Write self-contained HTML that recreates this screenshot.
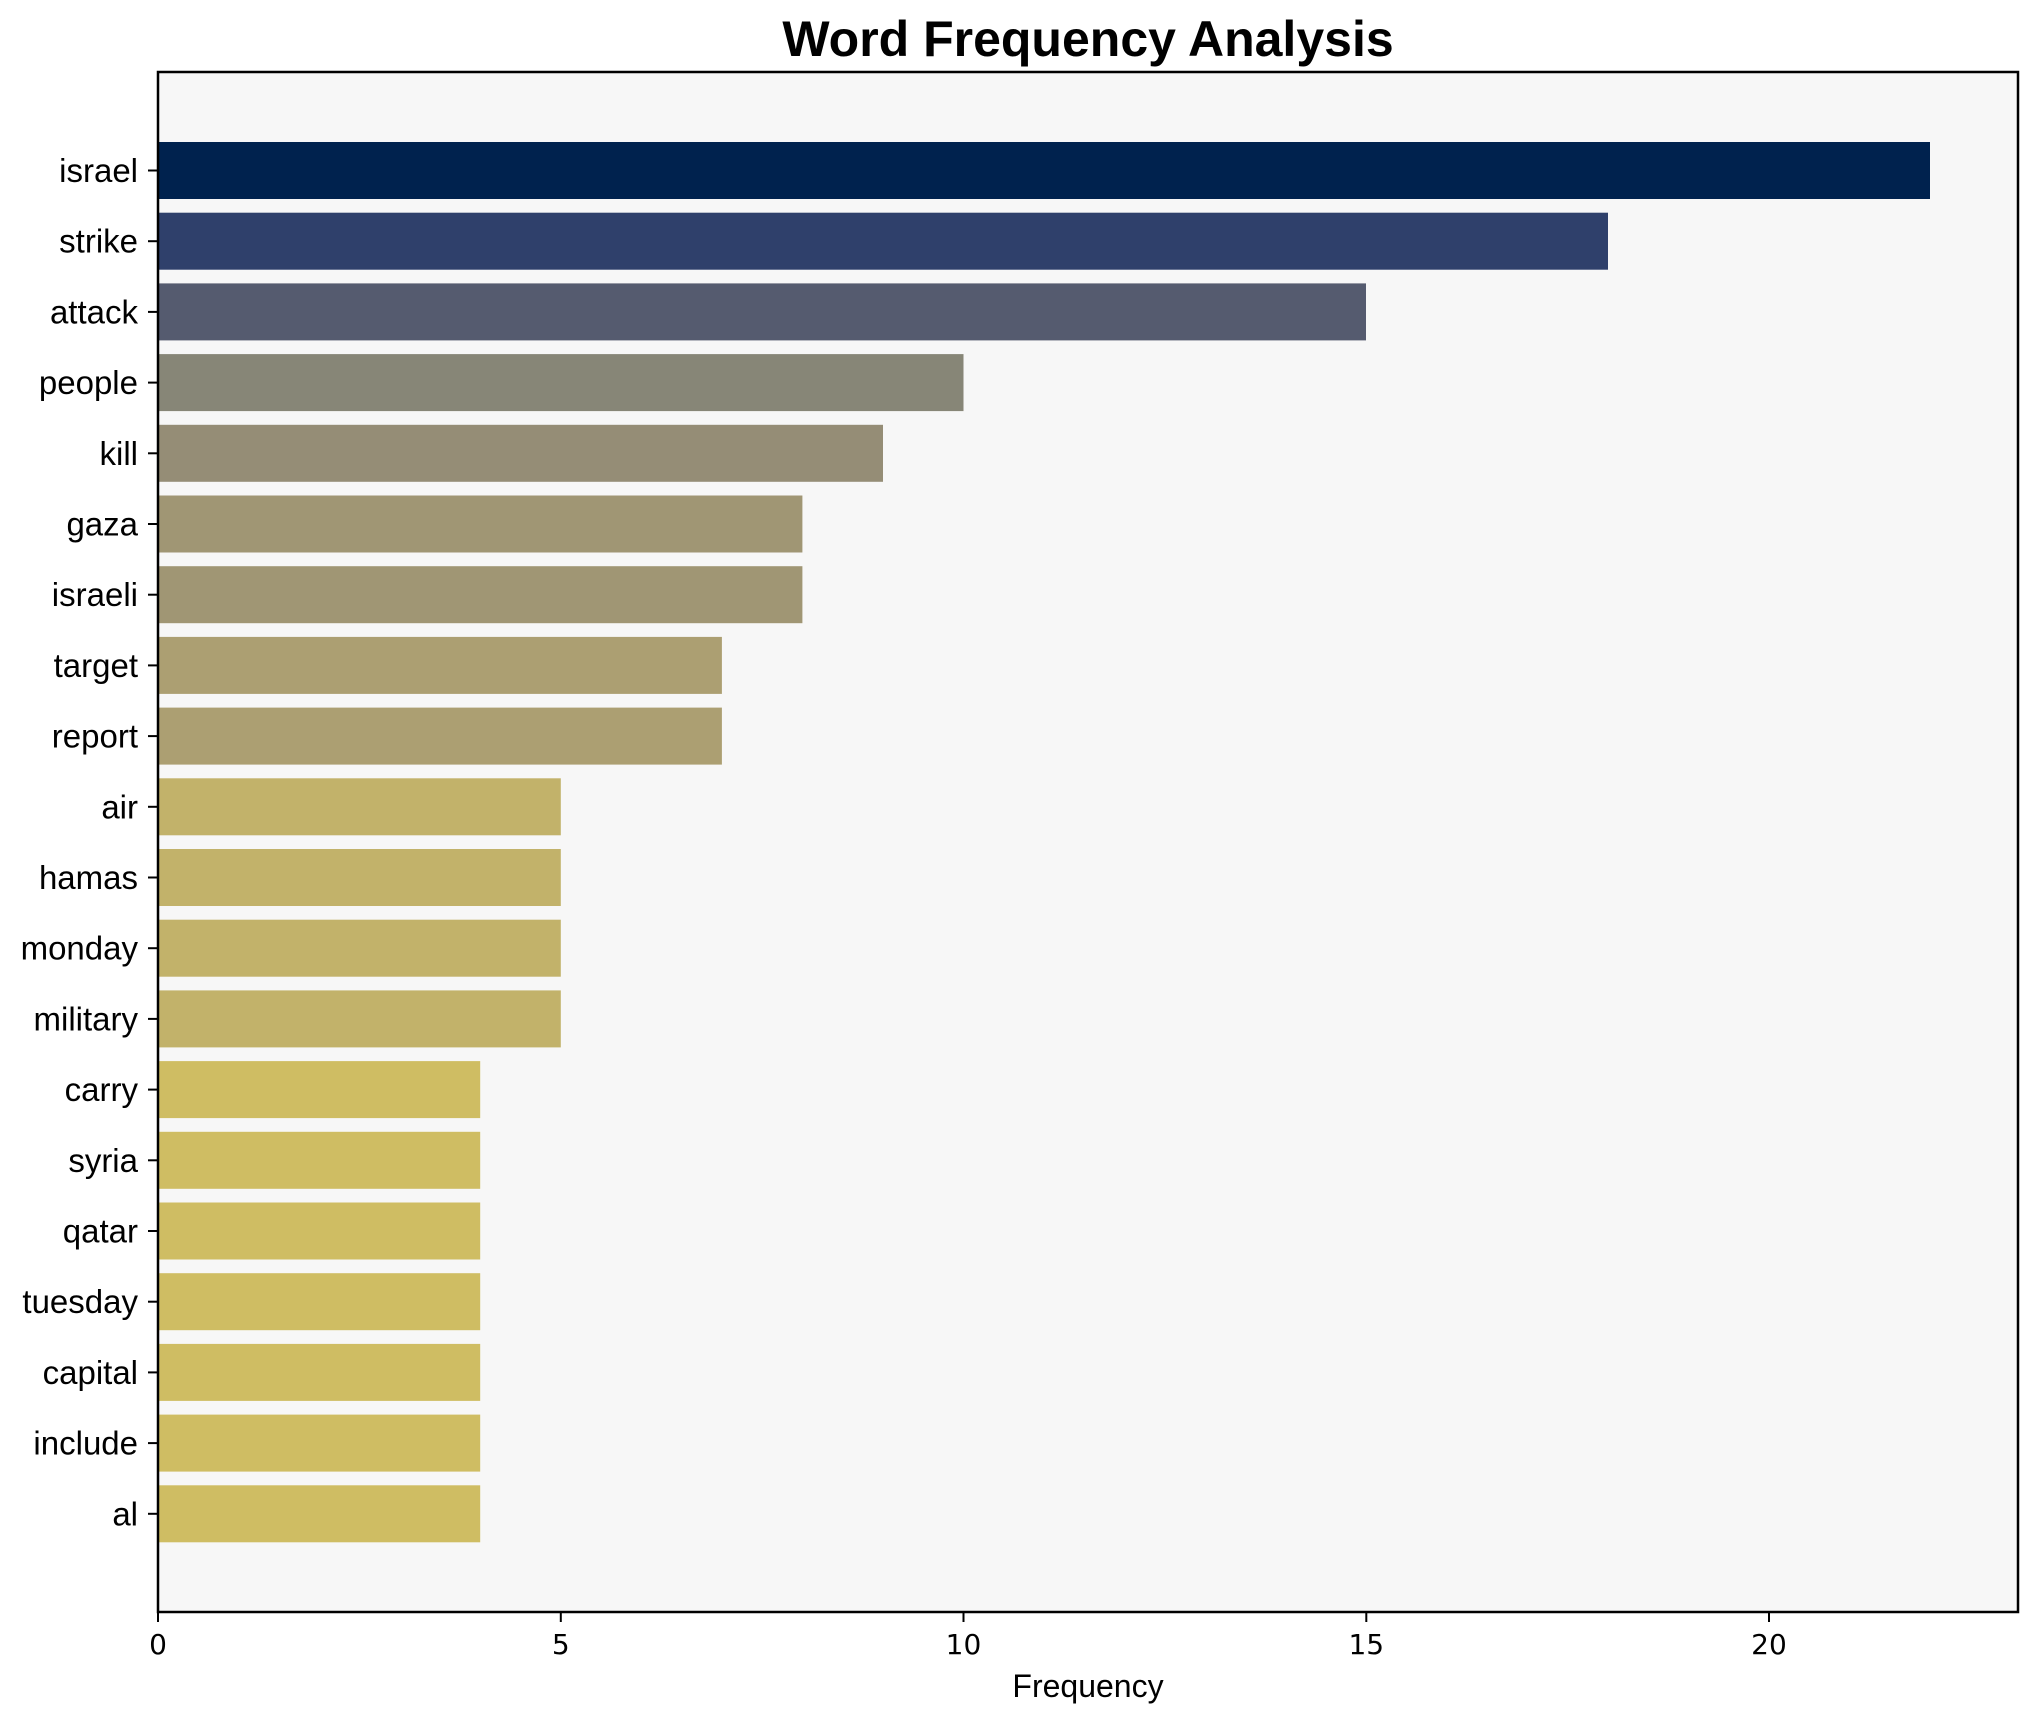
<!DOCTYPE html>
<html><head><meta charset="utf-8"><style>body{margin:0;background:#fff}svg{display:block}</style></head><body>
<svg width="2038" height="1722" xmlns="http://www.w3.org/2000/svg">
<rect width="2038" height="1722" fill="#fff"/>
<rect x="158" y="72" width="1860" height="1540" fill="#f7f7f7"/>
<g id="bars">
<rect x="158" y="142" width="1772" height="57" fill="#00224e"/>
<rect x="158" y="212.7" width="1450" height="57" fill="#2f406b"/>
<rect x="158" y="283.4" width="1208" height="57" fill="#555b6f"/>
<rect x="158" y="354.1" width="805.5" height="57" fill="#878677"/>
<rect x="158" y="424.8" width="725" height="57" fill="#958d76"/>
<rect x="158" y="495.5" width="644.4" height="57" fill="#a09674"/>
<rect x="158" y="566.2" width="644.4" height="57" fill="#a09674"/>
<rect x="158" y="636.9" width="563.9" height="57" fill="#ac9f72"/>
<rect x="158" y="707.6" width="563.9" height="57" fill="#ac9f72"/>
<rect x="158" y="778.3" width="402.8" height="57" fill="#c2b26a"/>
<rect x="158" y="849" width="402.8" height="57" fill="#c2b26a"/>
<rect x="158" y="919.7" width="402.8" height="57" fill="#c2b26a"/>
<rect x="158" y="990.4" width="402.8" height="57" fill="#c2b26a"/>
<rect x="158" y="1061.1" width="322.2" height="57" fill="#cfbd63"/>
<rect x="158" y="1131.8" width="322.2" height="57" fill="#cfbd63"/>
<rect x="158" y="1202.5" width="322.2" height="57" fill="#cfbd63"/>
<rect x="158" y="1273.2" width="322.2" height="57" fill="#cfbd63"/>
<rect x="158" y="1343.9" width="322.2" height="57" fill="#cfbd63"/>
<rect x="158" y="1414.6" width="322.2" height="57" fill="#cfbd63"/>
<rect x="158" y="1485.3" width="322.2" height="57" fill="#cfbd63"/>
</g>
<rect x="158" y="72" width="1860" height="1540" fill="none" stroke="#000" stroke-width="2.5"/>
<g stroke="#000" stroke-width="2">
<line x1="148" x2="158" y1="170.5" y2="170.5"/><line x1="148" x2="158" y1="241.2" y2="241.2"/><line x1="148" x2="158" y1="311.9" y2="311.9"/><line x1="148" x2="158" y1="382.6" y2="382.6"/><line x1="148" x2="158" y1="453.3" y2="453.3"/><line x1="148" x2="158" y1="524" y2="524"/><line x1="148" x2="158" y1="594.7" y2="594.7"/><line x1="148" x2="158" y1="665.4" y2="665.4"/><line x1="148" x2="158" y1="736.1" y2="736.1"/><line x1="148" x2="158" y1="806.8" y2="806.8"/><line x1="148" x2="158" y1="877.5" y2="877.5"/><line x1="148" x2="158" y1="948.2" y2="948.2"/><line x1="148" x2="158" y1="1018.9" y2="1018.9"/><line x1="148" x2="158" y1="1089.6" y2="1089.6"/><line x1="148" x2="158" y1="1160.3" y2="1160.3"/><line x1="148" x2="158" y1="1231" y2="1231"/><line x1="148" x2="158" y1="1301.7" y2="1301.7"/><line x1="148" x2="158" y1="1372.4" y2="1372.4"/><line x1="148" x2="158" y1="1443.1" y2="1443.1"/><line x1="148" x2="158" y1="1513.8" y2="1513.8"/>
<line x1="158" x2="158" y1="1612" y2="1622"/><line x1="560.8" x2="560.8" y1="1612" y2="1622"/><line x1="963.5" x2="963.5" y1="1612" y2="1622"/><line x1="1366.3" x2="1366.3" y1="1612" y2="1622"/><line x1="1769" x2="1769" y1="1612" y2="1622"/>
</g>
<g font-family="Liberation Sans, sans-serif" font-size="33" text-anchor="end" fill="#000">
<text x="138" y="182">israel</text><text x="138" y="252.7">strike</text><text x="138" y="323.4">attack</text><text x="138" y="394.1">people</text><text x="138" y="464.8">kill</text><text x="138" y="535.5">gaza</text><text x="138" y="606.2">israeli</text><text x="138" y="676.9">target</text><text x="138" y="747.6">report</text><text x="138" y="818.3">air</text><text x="138" y="889">hamas</text><text x="138" y="959.7">monday</text><text x="138" y="1030.4">military</text><text x="138" y="1101.1">carry</text><text x="138" y="1171.8">syria</text><text x="138" y="1242.5">qatar</text><text x="138" y="1313.2">tuesday</text><text x="138" y="1383.9">capital</text><text x="138" y="1454.6">include</text><text x="138" y="1525.3">al</text>
</g>
<g font-family="DejaVu Sans, sans-serif" font-size="28" text-anchor="middle" fill="#000">
<text x="158" y="1654">0</text><text x="560.8" y="1654">5</text><text x="963.5" y="1654">10</text><text x="1366.3" y="1654">15</text><text x="1769" y="1654">20</text>
</g>
<text x="1088" y="1697" font-family="Liberation Sans, sans-serif" font-size="32" text-anchor="middle">Frequency</text>
<text x="1088" y="56" font-family="Liberation Sans, sans-serif" font-size="50" font-weight="bold" text-anchor="middle">Word Frequency Analysis</text>
</svg>
</body></html>
